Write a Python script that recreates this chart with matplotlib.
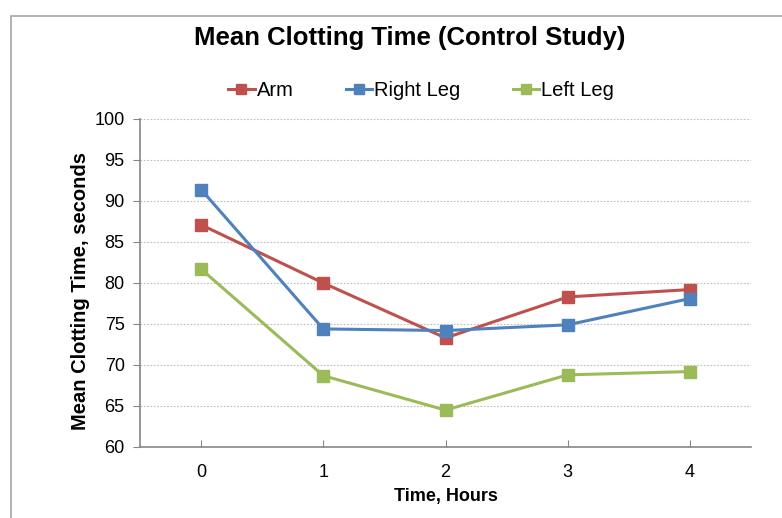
import matplotlib.pyplot as plt
from matplotlib.patches import Rectangle

plt.rcParams['font.family'] = ['Liberation Sans', 'DejaVu Sans']

# data
hours = [0, 1, 2, 3, 4]
arm = [87.1, 80.0, 73.3, 78.3, 79.2]
right_leg = [91.4, 74.4, 74.2, 74.9, 78.1]
left_leg = [81.7, 68.7, 64.5, 68.8, 69.2]

series = [("Arm", arm, "#C0504D"),
          ("Right Leg", right_leg, "#4F81BD"),
          ("Left Leg", left_leg, "#9BBB59")]

fig = plt.figure(figsize=(7.82, 5.18), dpi=100)
ax = fig.add_axes([140 / 782, 1 - 447 / 518, 611 / 782, 328 / 518])

# chart border (cropped at right and bottom like the original)
fig.patches.append(Rectangle((11 / 782, -0.1), 1.2, 1.1 - 16 / 518,
                             transform=fig.transFigure, fill=False,
                             edgecolor="#A6A6A6", linewidth=1.2))

for name, vals, col in series:
    ax.plot(hours, vals, color=col, linewidth=2.2, marker="s",
            markersize=8, label=name)

ax.set_xlim(-0.5, 4.5)
ax.set_ylim(60, 100)
ax.set_yticks(range(60, 101, 5))
ax.set_xticks(hours)
ax.yaxis.grid(True, linestyle=(0, (1.5, 1.5)), color="#BFBFBF", linewidth=0.8)
ax.set_axisbelow(True)

for s in ["top", "right"]:
    ax.spines[s].set_visible(False)
for s in ["left", "bottom"]:
    ax.spines[s].set_color("#868686")
    ax.spines[s].set_linewidth(1.2)

ax.tick_params(axis="y", direction="out", length=5, color="#868686",
               labelsize=13, pad=6)
ax.tick_params(axis="x", direction="in", length=5, color="#868686",
               labelsize=13, pad=12)

ax.set_xlabel("Time, Hours", fontsize=13, fontweight="bold", labelpad=5)
ax.set_ylabel("Mean Clotting Time, seconds", fontsize=14.5, fontweight="bold")
ax.yaxis.set_label_coords(-0.082, 0.476)

fig.text(410 / 782, 1 - 38 / 518, "Mean Clotting Time (Control Study)",
         ha="center", va="center", fontsize=18.5, fontweight="bold")

fig.legend(loc="center", bbox_to_anchor=(421 / 782, 1 - 91 / 518), ncol=3,
           frameon=False, fontsize=14.5, handlelength=1.3, handletextpad=0.1,
           columnspacing=2.6, markerscale=0.9)

fig.savefig("out.png", dpi=100)
